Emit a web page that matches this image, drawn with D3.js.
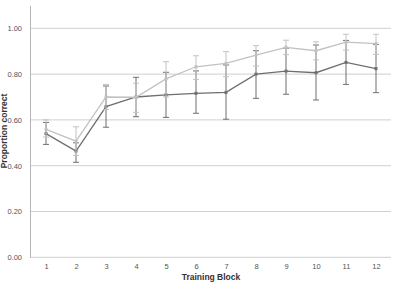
<!DOCTYPE html>
<html><head><meta charset="utf-8">
<script src="https://cdn.jsdelivr.net/npm/d3@7"></script>
<style>body{margin:0;background:#fff}svg{display:block}text{font-family:"Liberation Sans",Arial,sans-serif}</style>
</head><body>
<svg id="c" width="393" height="283"></svg>
<script>
const blocks = [1,2,3,4,5,6,7,8,9,10,11,12];
const darkMean = [0.54,0.464,0.658,0.70,0.709,0.716,0.72,0.80,0.813,0.806,0.851,0.824];
const darkLow  = [0.493,0.415,0.568,0.614,0.611,0.629,0.603,0.694,0.712,0.687,0.755,0.719];
const darkHigh = [0.589,0.50,0.748,0.786,0.808,0.814,0.84,0.902,0.913,0.927,0.947,0.93];
const lightMean = [0.559,0.507,0.70,0.699,0.779,0.832,0.847,0.883,0.917,0.902,0.94,0.933];
const lightLow  = [0.525,0.445,0.645,0.633,0.70,0.777,0.789,0.835,0.885,0.862,0.905,0.886];
const lightHigh = [0.60,0.57,0.755,0.76,0.854,0.88,0.898,0.924,0.948,0.941,0.974,0.974];
const yTicks = [0,0.2,0.4,0.6,0.8,1.0];

const svg = d3.select("#c");
const x = d3.scalePoint().domain(blocks).range([31,391]).padding(0.5);
const y = d3.scaleLinear().domain([0,1.1]).range([257.3,5.4]);

// gridlines
svg.append("g").selectAll("line").data(yTicks).join("line")
  .attr("x1",30).attr("x2",391).attr("y1",d=>y(d)).attr("y2",d=>y(d))
  .attr("stroke","#cfcfcf").attr("stroke-width",1);

// y axis
const ya = svg.append("g").attr("transform","translate(30,0)")
  .call(d3.axisLeft(y).tickValues(yTicks).tickFormat(d3.format(".2f")).tickSize(0).tickPadding(8));
ya.select(".domain").attr("stroke","#b5b5b5");
ya.selectAll("text").attr("font-size",7.5).attr("fill","#555");

// x axis
const xa = svg.append("g").attr("transform","translate(0,257.3)")
  .call(d3.axisBottom(x).tickSize(0).tickPadding(6));
xa.select(".domain").remove();
xa.selectAll("text").attr("font-size",7.5).attr("fill","#555");

svg.append("text").attr("x",211).attr("y",280).attr("text-anchor","middle")
  .attr("font-size",8.5).attr("font-weight","bold").attr("fill","#333").text("Training Block");
svg.append("text").attr("transform","translate(7,131) rotate(-90)").attr("text-anchor","middle")
  .attr("font-size",8.5).attr("font-weight","bold").attr("fill","#333").text("Proportion correct");

function series(mean, low, high, color){
  const g = svg.append("g");
  const data = blocks.map((b,i)=>({b, m:mean[i], lo:low[i], hi:high[i]}));
  g.selectAll(".eb").data(data).join("line")
    .attr("x1",d=>x(d.b)).attr("x2",d=>x(d.b)).attr("y1",d=>y(d.lo)).attr("y2",d=>y(d.hi))
    .attr("stroke",color).attr("stroke-width",1);
  ["lo","hi"].forEach(k=>{
    g.selectAll(".cap"+k).data(data).join("line")
      .attr("x1",d=>x(d.b)-3).attr("x2",d=>x(d.b)+3).attr("y1",d=>y(d[k])).attr("y2",d=>y(d[k]))
      .attr("stroke",color).attr("stroke-width",1);
  });
  g.append("path").datum(data)
    .attr("d",d3.line().x(d=>x(d.b)).y(d=>y(d.m)))
    .attr("fill","none").attr("stroke",color).attr("stroke-width",1.3);
  g.selectAll("rect").data(data).join("rect")
    .attr("x",d=>x(d.b)-1.5).attr("y",d=>y(d.m)-1.5).attr("width",3).attr("height",3)
    .attr("fill",color);
}
series(darkMean, darkLow, darkHigh, "#6f6f6f");
series(lightMean, lightLow, lightHigh, "#c2c2c2");
</script>
</body></html>
